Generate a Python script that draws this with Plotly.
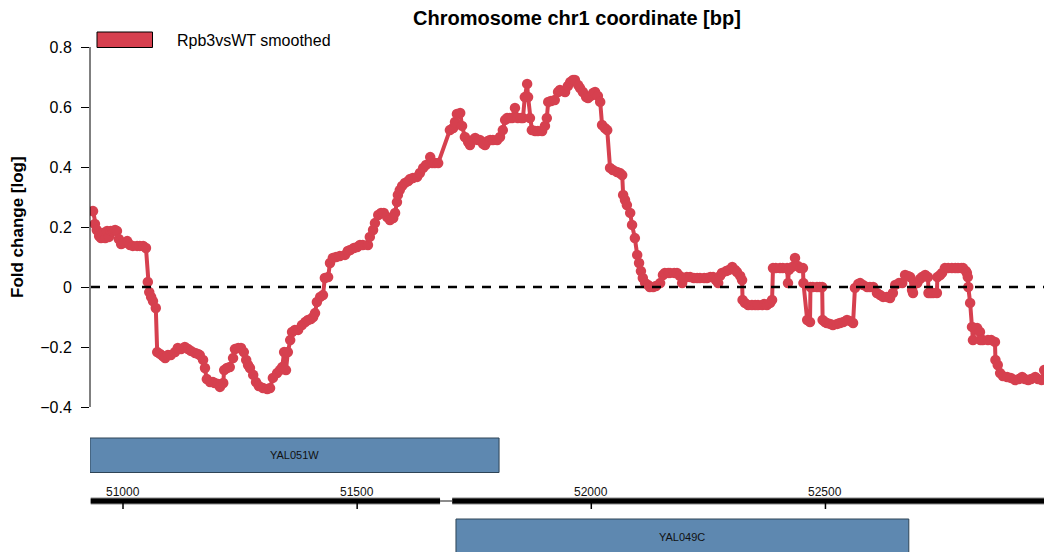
import plotly.graph_objects as go

# ---------------- data ----------------
positions_bp = [
    50936, 50940, 50944, 50949, 50953, 50957, 50962, 50966, 50970, 50974, 50979, 50983, 50987, 50991, 50996,
    51002, 51009, 51015, 51021, 51030, 51036, 51043, 51049, 51053, 51056, 51060, 51064, 51070, 51073, 51079,
    51085, 51090, 51096, 51102, 51111, 51117, 51124, 51132, 51139, 51145, 51154, 51160, 51164, 51171, 51175,
    51179, 51186, 51192, 51196, 51203, 51207, 51214, 51216, 51222, 51228, 51235, 51239, 51246, 51252, 51258,
    51263, 51267, 51271, 51278, 51284, 51290, 51299, 51308, 51314, 51320, 51329, 51335, 51340, 51344, 51348,
    51352, 51357, 51361, 51367, 51374, 51382, 51389, 51395, 51401, 51406, 51410, 51414, 51421, 51427, 51431,
    51438, 51442, 51448, 51455, 51463, 51474, 51480, 51485, 51493, 51500, 51506, 51512, 51523, 51527, 51534,
    51538, 51545, 51551, 51557, 51564, 51570, 51577, 51581, 51585, 51587, 51591, 51596, 51602, 51609, 51613,
    51619, 51628, 51634, 51641, 51647, 51656, 51660, 51666, 51673, 51698, 51705, 51709, 51713, 51720, 51724,
    51730, 51737, 51741, 51747, 51752, 51758, 51762, 51769, 51773, 51779, 51784, 51790, 51799, 51805, 51811,
    51816, 51820, 51826, 51831, 51837, 51843, 51850, 51854, 51858, 51863, 51865, 51869, 51873, 51880, 51886,
    51895, 51901, 51905, 51908, 51914, 51922, 51929, 51933, 51940, 51944, 51950, 51955, 51961, 51965, 51972,
    51976, 51982, 51989, 51993, 51999, 52004, 52008, 52014, 52019, 52023, 52029, 52034, 52040, 52046, 52055,
    52061, 52066, 52068, 52072, 52076, 52083, 52087, 52093, 52098, 52102, 52106, 52110, 52115, 52121, 52125,
    52132, 52138, 52147, 52153, 52157, 52164, 52168, 52177, 52183, 52189, 52194, 52198, 52204, 52211, 52219,
    52226, 52232, 52241, 52247, 52254, 52260, 52266, 52271, 52275, 52279, 52288, 52294, 52301, 52307, 52311,
    52318, 52322, 52323, 52328, 52335, 52343, 52350, 52356, 52365, 52369, 52375, 52382, 52386, 52388, 52394,
    52403, 52409, 52418, 52420, 52422, 52429, 52435, 52441, 52446, 52452, 52453, 52461, 52467, 52468, 52473,
    52482, 52488, 52493, 52494, 52499, 52503, 52510, 52516, 52525, 52531, 52538, 52546, 52552, 52559, 52563,
    52570, 52574, 52580, 52589, 52595, 52602, 52610, 52617, 52623, 52631, 52638, 52644, 52649, 52657, 52664,
    52670, 52676, 52681, 52685, 52687, 52696, 52702, 52706, 52713, 52719, 52720, 52725, 52730, 52738, 52739,
    52745, 52749, 52755, 52762, 52770, 52777, 52783, 52790, 52794, 52800, 52802, 52804, 52805, 52809, 52813,
    52815, 52819, 52824, 52830, 52831, 52836, 52847, 52854, 52862, 52863, 52868, 52873, 52879, 52888, 52896,
    52905, 52913, 52920, 52926, 52933, 52939, 52948, 52954, 52962, 52967,
]

fold_change_log = [
    0.253, 0.21, 0.19, 0.17, 0.163, 0.18, 0.163, 0.187, 0.167, 0.187, 0.187, 0.19, 0.187, 0.16, 0.143,
    0.147, 0.153, 0.14, 0.137, 0.137, 0.137, 0.137, 0.13, 0.017, -0.017, -0.033, -0.047, -0.07, -0.217, -0.223,
    -0.23, -0.237, -0.227, -0.227, -0.217, -0.203, -0.207, -0.2, -0.207, -0.213, -0.22, -0.223, -0.227, -0.243, -0.27,
    -0.307, -0.317, -0.317, -0.32, -0.323, -0.333, -0.32, -0.277, -0.27, -0.267, -0.237, -0.207, -0.203, -0.203, -0.217,
    -0.243, -0.26, -0.27, -0.293, -0.317, -0.33, -0.337, -0.34, -0.337, -0.303, -0.287, -0.277, -0.267, -0.217, -0.277,
    -0.217, -0.177, -0.15, -0.143, -0.143, -0.127, -0.117, -0.11, -0.107, -0.1, -0.087, -0.05, -0.033, -0.027, 0.03,
    0.033, 0.08, 0.097, 0.1, 0.103, 0.107, 0.12, 0.123, 0.13, 0.133, 0.14, 0.14, 0.14, 0.167, 0.19,
    0.213, 0.24, 0.247, 0.247, 0.233, 0.223, 0.23, 0.247, 0.283, 0.307, 0.323, 0.337, 0.347, 0.353, 0.36,
    0.363, 0.367, 0.38, 0.397, 0.407, 0.433, 0.413, 0.413, 0.413, 0.523, 0.53, 0.55, 0.577, 0.58, 0.537,
    0.5, 0.483, 0.473, 0.49, 0.497, 0.49, 0.49, 0.477, 0.473, 0.487, 0.49, 0.49, 0.49, 0.5, 0.523,
    0.557, 0.563, 0.563, 0.563, 0.597, 0.563, 0.563, 0.563, 0.633, 0.677, 0.633, 0.563, 0.523, 0.52, 0.52,
    0.52, 0.537, 0.563, 0.617, 0.62, 0.623, 0.65, 0.657, 0.653, 0.65, 0.67, 0.683, 0.69, 0.69, 0.673,
    0.663, 0.65, 0.633, 0.63, 0.637, 0.647, 0.65, 0.637, 0.617, 0.54, 0.53, 0.523, 0.397, 0.39, 0.383,
    0.38, 0.373, 0.307, 0.29, 0.273, 0.247, 0.207, 0.163, 0.107, 0.08, 0.053, 0.03, 0.013, 0.007, 0.0,
    0.0, 0.003, 0.013, 0.04, 0.047, 0.047, 0.047, 0.047, 0.047, 0.037, 0.013, 0.03, 0.033, 0.033, 0.03,
    0.03, 0.03, 0.03, 0.03, 0.033, 0.033, 0.023, 0.013, 0.037, 0.047, 0.053, 0.057, 0.067, 0.057, 0.05,
    0.037, 0.023, -0.043, -0.053, -0.06, -0.06, -0.06, -0.06, -0.06, -0.057, -0.06, -0.053, -0.043, 0.063, 0.063,
    0.063, 0.063, 0.063, 0.013, 0.057, 0.067, 0.097, 0.07, 0.063, 0.063, 0.013, -0.11, -0.117, 0.0, 0.0,
    0.0, 0.0, 0.0, -0.11, -0.117, -0.12, -0.123, -0.127, -0.123, -0.12, -0.117, -0.11, -0.113, -0.12, -0.003,
    0.01, 0.013, 0.007, 0.0, 0.0, 0.0, -0.02, -0.027, -0.033, -0.033, -0.037, -0.02, 0.007, 0.013, 0.013,
    0.04, 0.037, 0.033, -0.01, -0.02, 0.013, 0.027, 0.033, 0.04, 0.033, -0.02, -0.02, -0.02, -0.02, 0.033,
    0.04, 0.047, 0.063, 0.063, 0.063, 0.063, 0.063, 0.063, 0.063, 0.053, 0.047, 0.033, 0.0, -0.053, -0.133,
    -0.177, -0.137, -0.137, -0.15, -0.177, -0.177, -0.177, -0.177, -0.183, -0.243, -0.26, -0.287, -0.297, -0.3, -0.303,
    -0.31, -0.307, -0.3, -0.307, -0.31, -0.307, -0.3, -0.307, -0.31, -0.277,
]

series_name = "Rpb3vsWT smoothed"
y_tick_values = [-0.4, -0.2, 0.0, 0.2, 0.4, 0.6, 0.8]
y_tick_labels = ["\u22120.4", "\u22120.2", "0", "0.2", "0.4", "0.6", "0.8"]
x_tick_values = [51000, 51500, 52000, 52500]
x_tick_labels = ["51000", "51500", "52000", "52500"]

gene_names = ["YAL051W", "YAL049C"]
gene_starts = [48564, 51711]
gene_ends = [51803, 52678]
gene_rows = ["top", "bottom"]

genome_segments = [(50931, 51677), (51703, 52967)]   # covered stretches of the coordinate track
genome_gap = (51677, 51703)

X_RANGE = [50929.5, 52966.7]
Y_RANGE = [-0.46, 0.89]

# ---------------- style ----------------
W, H = 1044, 552
RED = "#D6404F"
BOX_FILL = "#5E88B0"
BOX_LINE = "#2E4456"
FONT = "Liberation Sans, Arial, Helvetica, sans-serif"


def px(x):
    return x / W


def py(y):
    return 1 - y / H


fig = go.Figure()
fig.add_trace(go.Scatter(
    x=positions_bp, y=fold_change_log, mode="lines+markers",
    line=dict(color=RED, width=4),
    marker=dict(color=RED, size=10.5, line=dict(width=0)),
    name=series_name, showlegend=False, hoverinfo="skip",
))

shapes = []
annotations = []

# y axis line (R-style, spanning the tick range only)
shapes.append(dict(type="line", xref="paper", yref="y", x0=px(90), x1=px(90),
                   y0=y_tick_values[0], y1=y_tick_values[-1], line=dict(color="black", width=1)))
# zero dashed line
shapes.append(dict(type="line", xref="paper", yref="y", x0=px(91), x1=1, y0=0, y1=0,
                   line=dict(color="black", width=2.5, dash="9px,8px")))

# legend
shapes.append(dict(type="rect", xref="paper", yref="paper", x0=px(97), x1=px(152.5),
                   y0=py(47.5), y1=py(32), fillcolor=RED, line=dict(color="black", width=1)))
annotations.append(dict(text=series_name, xref="paper", yref="paper", x=px(175), y=py(40.5),
                        xanchor="left", yanchor="middle", showarrow=False,
                        font=dict(family=FONT, size=16, color="black")))

# title
annotations.append(dict(text="<b>Chromosome chr1 coordinate [bp]</b>", xref="paper", yref="paper",
                        x=px(577), y=py(18), xanchor="center", yanchor="middle", showarrow=False,
                        font=dict(family=FONT, size=20, color="black")))
# y axis title
annotations.append(dict(text="<b>Fold change [log]</b>", xref="paper", yref="paper",
                        x=px(18), y=py(227), xanchor="center", yanchor="middle", showarrow=False,
                        textangle=-90, font=dict(family=FONT, size=17, color="black")))

# gene boxes
row_pos = {"top": (438, 472.5), "bottom": (519, 562)}
row_label_y = {"top": 455.5, "bottom": 537}
for name, s, e, row in zip(gene_names, gene_starts, gene_ends, gene_rows):
    s_vis = max(s, X_RANGE[0])
    e_vis = min(e, X_RANGE[1])
    top, bot = row_pos[row]
    shapes.append(dict(type="rect", xref="x", yref="paper", x0=s_vis, x1=e_vis,
                       y0=py(bot), y1=py(top), fillcolor=BOX_FILL,
                       line=dict(color=BOX_LINE, width=1)))
    annotations.append(dict(text=name, xref="x", yref="paper", x=(s_vis + e_vis) / 2,
                            y=py(row_label_y[row]),
                            xanchor="center", yanchor="middle", showarrow=False,
                            font=dict(family=FONT, size=11, color="#111111")))

# genome coordinate track
for a, b in genome_segments:
    shapes.append(dict(type="line", xref="x", yref="paper", x0=a, x1=b, y0=py(501), y1=py(501),
                       line=dict(color="#8a8a8a", width=7)))
    shapes.append(dict(type="line", xref="x", yref="paper", x0=a, x1=b, y0=py(501), y1=py(501),
                       line=dict(color="black", width=5)))
shapes.append(dict(type="line", xref="x", yref="paper", x0=genome_gap[0], x1=genome_gap[1],
                   y0=py(501), y1=py(501), line=dict(color="#666666", width=1.5)))
for tv, tl in zip(x_tick_values, x_tick_labels):
    shapes.append(dict(type="line", xref="x", yref="paper", x0=tv, x1=tv, y0=py(501), y1=py(509),
                       line=dict(color="black", width=1.5)))
    annotations.append(dict(text=tl, xref="x", yref="paper", x=tv, y=py(492),
                            xanchor="center", yanchor="middle", showarrow=False,
                            font=dict(family=FONT, size=12, color="#111111")))

fig.update_layout(
    width=W, height=H,
    margin=dict(l=0, r=0, t=0, b=0),
    paper_bgcolor="white", plot_bgcolor="white",
    showlegend=False,
    hovermode=False,
    xaxis=dict(domain=[px(90), 1], range=X_RANGE, showgrid=False, zeroline=False,
               showticklabels=False, ticks="", showline=False, fixedrange=True),
    yaxis=dict(domain=[py(425), py(20)], range=Y_RANGE, showgrid=False, zeroline=False,
               showline=False, ticks="outside", ticklen=8, tickwidth=1, tickcolor="black",
               tickvals=y_tick_values, ticktext=y_tick_labels, ticklabelstandoff=6,
               tickfont=dict(family=FONT, size=16, color="black"), fixedrange=True),
    shapes=shapes,
    annotations=annotations,
)

fig.write_html(
    "out.html",
    config={"displayModeBar": False},
    post_script="document.body.style.margin='0';document.body.style.overflow='hidden';",
)
